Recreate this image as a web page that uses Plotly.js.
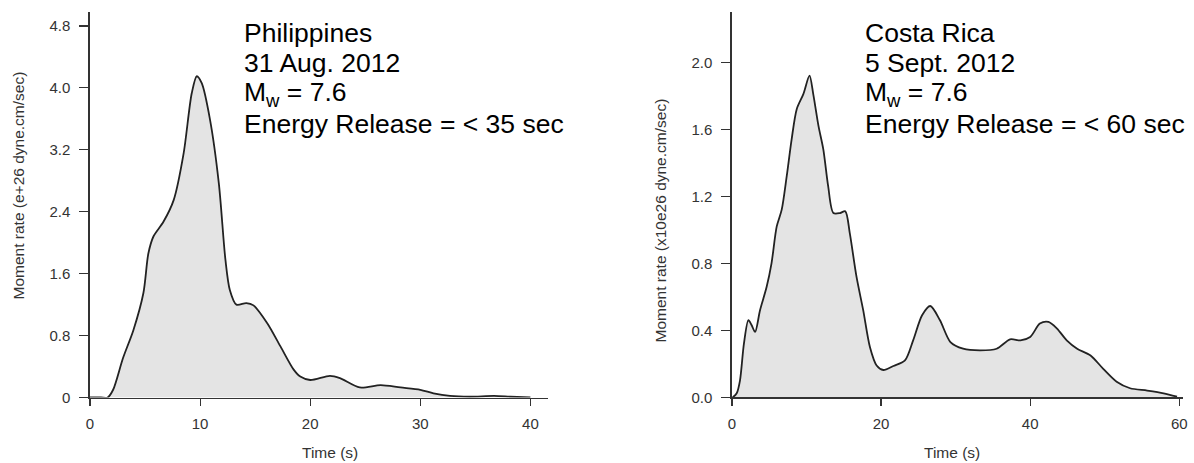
<!DOCTYPE html>
<html>
<head>
<meta charset="utf-8">
<script src="https://cdn.plot.ly/plotly-3.0.1.min.js"></script>
<style>html,body{margin:0;padding:0;background:#fff;}#chart{width:1194px;height:463px;}</style>
</head>
<body>
<div id="chart"></div>
<script>
// Philippines, 31 Aug. 2012 — moment rate (e+26 dyne.cm/sec) vs time (s)
const phTime = [0, 1.0, 1.6, 2.1, 3.0, 3.94, 4.85, 5.3, 5.76, 6.67, 7.6, 8.5, 9.24, 9.7, 10.15, 10.9, 11.7, 12.3, 12.7, 13.3, 14.2, 14.85, 16.1, 17.3, 18.5, 19.1, 20.0, 21.8, 22.7, 24.5, 26.4, 28.2, 30.0, 31.2, 32.7, 34.5, 36.7, 38.2, 40.0];
const phRate = [0, 0, 0, 0.10, 0.51, 0.87, 1.35, 1.86, 2.08, 2.27, 2.55, 3.15, 3.93, 4.15, 4.06, 3.59, 2.77, 1.78, 1.39, 1.20, 1.22, 1.19, 0.96, 0.66, 0.36, 0.27, 0.226, 0.28, 0.25, 0.13, 0.16, 0.13, 0.10, 0.054, 0.02, 0.01, 0.02, 0.01, 0];

// Costa Rica, 5 Sept. 2012 — moment rate (x10e26 dyne.cm/sec) vs time (s)
const crTime = [0.1, 0.63, 1.07, 1.6, 2.2, 2.64, 3.1, 3.76, 4.65, 5.3, 6.0, 6.67, 7.34, 8.0, 8.68, 9.57, 10.4, 10.9, 11.6, 12.25, 12.9, 13.6, 14.5, 15.2, 15.8, 16.7, 17.6, 18.5, 19.4, 20.3, 21.65, 23.2, 24.3, 25.5, 26.6, 27.9, 29.3, 31.0, 33.3, 35.5, 37.3, 38.7, 40.0, 41.3, 42.45, 43.6, 44.9, 46.3, 48.1, 49.8, 51.6, 53.4, 55.7, 57.9, 59.7];
const crRate = [0, 0.024, 0.10, 0.32, 0.46, 0.43, 0.39, 0.52, 0.66, 0.80, 1.02, 1.12, 1.32, 1.54, 1.72, 1.81, 1.92, 1.81, 1.62, 1.48, 1.26, 1.10, 1.10, 1.11, 0.98, 0.72, 0.52, 0.30, 0.19, 0.163, 0.187, 0.22, 0.34, 0.49, 0.545, 0.46, 0.33, 0.29, 0.28, 0.29, 0.346, 0.34, 0.36, 0.44, 0.45, 0.41, 0.34, 0.29, 0.25, 0.17, 0.093, 0.054, 0.04, 0.024, 0.004];

const phTicksY = [0, 0.8, 1.6, 2.4, 3.2, 4.0, 4.8];
const phTickTextY = ['0', '0.8', '1.6', '2.4', '3.2', '4.0', '4.8'];
const phTicksX = [0, 10, 20, 30, 40];
const crTicksY = [0, 0.4, 0.8, 1.2, 1.6, 2.0];
const crTickTextY = ['0.0', '0.4', '0.8', '1.2', '1.6', '2.0'];
const crTicksX = [0, 20, 40, 60];

const phLabels = ['Philippines', '31 Aug. 2012', 'M<sub>w</sub> = 7.6', 'Energy Release = < 35 sec'];
const crLabels = ['Costa Rica', '5 Sept. 2012', 'M<sub>w</sub> = 7.6', 'Energy Release = < 60 sec'];
const phYTitle = 'Moment rate (e+26 dyne.cm/sec)';
const crYTitle = 'Moment rate (x10e26 dyne.cm/sec)';
const xTitle = 'Time (s)';

const W = 1194, H = 463;
const px = v => v / W;
const py = v => 1 - v / H;

const lineStyle = {color: '#222', width: 1.8, shape: 'spline', smoothing: 0.8};
const traces = [
  {x: phTime, y: phRate, type: 'scatter', mode: 'lines', fill: 'tozeroy', fillcolor: '#e4e4e4', line: lineStyle, xaxis: 'x', yaxis: 'y', hoverinfo: 'skip'},
  {x: crTime, y: crRate, type: 'scatter', mode: 'lines', fill: 'tozeroy', fillcolor: '#e4e4e4', line: lineStyle, xaxis: 'x2', yaxis: 'y2', hoverinfo: 'skip'}
];

const tickFont = {family: 'Liberation Sans, Arial, sans-serif', size: 15, color: '#333'};
const axBase = {
  showgrid: false, zeroline: false, showline: true, linecolor: '#333', linewidth: 1.6,
  ticks: 'outside', tickcolor: '#333', tickwidth: 1.2, tickfont: tickFont, fixedrange: true
};

const layout = {
  width: W, height: H, margin: {l: 0, r: 0, t: 0, b: 0},
  paper_bgcolor: '#fff', plot_bgcolor: '#fff', showlegend: false,
  xaxis: Object.assign({}, axBase, {domain: [px(90), px(548)], range: [0, 41.6], tickvals: phTicksX, ticklen: 7, ticklabelstandoff: 5, anchor: 'y'}),
  yaxis: Object.assign({}, axBase, {domain: [1 - 397.5 / H, py(12)], range: [0, 4.98], tickvals: phTicksY, ticktext: phTickTextY, ticklen: 9, ticklabelstandoff: 6, anchor: 'x'}),
  xaxis2: Object.assign({}, axBase, {domain: [px(732), px(1183)], range: [0, 60.5], tickvals: crTicksX, ticklen: 7, ticklabelstandoff: 5, anchor: 'y2'}),
  yaxis2: Object.assign({}, axBase, {domain: [1 - 397.3 / H, py(12)], range: [0, 2.30], tickvals: crTicksY, ticktext: crTickTextY, ticklen: 9, ticklabelstandoff: 6, anchor: 'x2'}),
  annotations: []
};

const textFont = {family: 'Liberation Sans, Arial, sans-serif', size: 26.5, color: '#000'};
const lineCenters = [33, 63.5, 94, 124];
phLabels.forEach((t, i) => layout.annotations.push({xref: 'paper', yref: 'paper', x: px(242), y: py(lineCenters[i]), xanchor: 'left', yanchor: 'middle', text: t, showarrow: false, font: textFont}));
crLabels.forEach((t, i) => layout.annotations.push({xref: 'paper', yref: 'paper', x: px(863), y: py(lineCenters[i]), xanchor: 'left', yanchor: 'middle', text: t, showarrow: false, font: textFont}));

const titleFont = {family: 'Liberation Sans, Arial, sans-serif', size: 15.5, color: '#333'};
layout.annotations.push({xref: 'paper', yref: 'paper', x: px(18.5), y: py(186), textangle: -90, xanchor: 'center', yanchor: 'middle', text: phYTitle, showarrow: false, font: titleFont});
layout.annotations.push({xref: 'paper', yref: 'paper', x: px(660), y: py(220.5), textangle: -90, xanchor: 'center', yanchor: 'middle', text: crYTitle, showarrow: false, font: titleFont});
layout.annotations.push({xref: 'paper', yref: 'paper', x: px(330), y: py(452), xanchor: 'center', yanchor: 'middle', text: xTitle, showarrow: false, font: titleFont});
layout.annotations.push({xref: 'paper', yref: 'paper', x: px(952), y: py(452), xanchor: 'center', yanchor: 'middle', text: xTitle, showarrow: false, font: titleFont});

Plotly.newPlot('chart', traces, layout, {displayModeBar: false, staticPlot: true});
</script>
</body>
</html>
